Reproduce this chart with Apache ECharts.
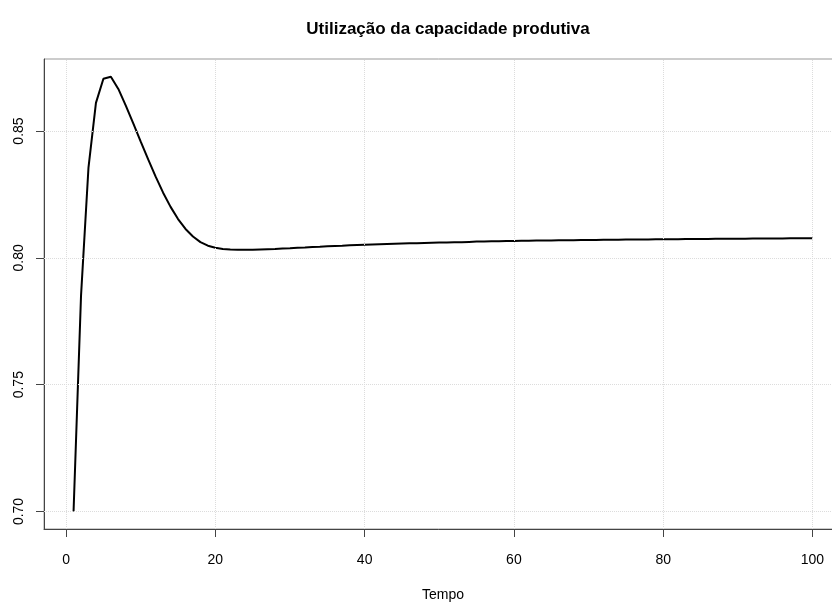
<!DOCTYPE html>
<html>
<head>
<meta charset="utf-8">
<script src="https://cdn.jsdelivr.net/npm/echarts@6/dist/echarts.min.js"></script>
<style>
  html, body { margin: 0; padding: 0; background: #fff; }
  #chart { width: 832px; height: 603px; }
</style>
</head>
<body>
<div id="chart"></div>
<script>
// periodos 1..100
var tempo = [];
for (var i = 1; i <= 100; i++) tempo.push(i);

// utilizacao da capacidade
var utilizacao = [
  0.7000, 0.7850, 0.8356, 0.8611, 0.8706, 0.8714, 0.8666, 0.8600, 0.8530, 0.8458,
  0.8388, 0.8320, 0.8257, 0.8201, 0.8153, 0.8114, 0.8084, 0.8062, 0.8048, 0.8040,
  0.8035, 0.8033, 0.8032, 0.8032, 0.8032, 0.8033, 0.8034, 0.8035, 0.8037, 0.8038,
  0.8040, 0.8041, 0.8043, 0.8044, 0.8046, 0.8047, 0.8048, 0.8050, 0.8051, 0.8052,
  0.8053, 0.8054, 0.8055, 0.8056, 0.8057, 0.8058, 0.8058, 0.8059, 0.8060, 0.8061,
  0.8061, 0.8062, 0.8062, 0.8063, 0.8064, 0.8064, 0.8065, 0.8065, 0.8066, 0.8066,
  0.8067, 0.8067, 0.8068, 0.8068, 0.8068, 0.8069, 0.8069, 0.8069, 0.8070, 0.8070,
  0.8070, 0.8071, 0.8071, 0.8071, 0.8072, 0.8072, 0.8072, 0.8072, 0.8073, 0.8073,
  0.8073, 0.8073, 0.8074, 0.8074, 0.8074, 0.8074, 0.8075, 0.8075, 0.8075, 0.8075,
  0.8075, 0.8076, 0.8076, 0.8076, 0.8076, 0.8076, 0.8077, 0.8077, 0.8077, 0.8077
];

var xTicks = [0, 20, 40, 60, 80, 100];
var yTicks = [0.70, 0.75, 0.80, 0.85];

var chart = echarts.init(document.getElementById('chart'));

var gridLines = [];
xTicks.forEach(function (v) { gridLines.push({ xAxis: v }); });
yTicks.forEach(function (v) { gridLines.push({ yAxis: v }); });

chart.setOption({
    animation: false,
    textStyle: {
        fontFamily: 'Liberation Sans'
    },
    title: {
        text: 'Utilização da capacidade produtiva',
        left: 443,
        top: 16,
        textAlign: 'center',
        textStyle: {
            color: '#000',
            fontSize: 17,
            fontWeight: 'bold',
            fontFamily: 'Liberation Sans'
        }
    },
    grid: {
        show: true,
        left: 44,
        top: 59,
        width: 798,
        height: 470,
        borderColor: '#999',
        borderWidth: 1,
        containLabel: false,
        outerBoundsMode: 'none'
    },
    xAxis: {
        type: 'value',
        min: -2.96,
        max: 103.96,
        name: 'Tempo',
        nameLocation: 'middle',
        nameGap: 59,
        nameTextStyle: {
            color: '#000',
            fontSize: 14
        },
        axisLine: {
            show: true,
            onZero: false,
            lineStyle: { color: '#444', width: 1 }
        },
        axisTick: {
            show: true,
            inside: false,
            length: 8,
            customValues: xTicks,
            lineStyle: { color: '#444' }
        },
        axisLabel: {
            color: '#000',
            fontSize: 14,
            margin: 24,
            customValues: xTicks
        },
        splitLine: { show: false }
    },
    yAxis: {
        type: 'value',
        min: 0.6931,
        max: 0.8784,
        axisLine: {
            show: true,
            onZero: false,
            lineStyle: { color: '#444', width: 1 }
        },
        axisTick: {
            show: true,
            length: 8,
            customValues: yTicks,
            lineStyle: { color: '#444' }
        },
        axisLabel: {
            color: '#000',
            fontSize: 14,
            rotate: 90,
            margin: 18,
            customValues: yTicks,
            formatter: function (v) { return v.toFixed(2); }
        },
        splitLine: { show: false }
    },
    series: [
        {
            type: 'line',
            data: tempo.map(function (t, k) { return [t, utilizacao[k]]; }),
            showSymbol: false,
            lineStyle: { color: '#000', width: 2 },
            markLine: {
                silent: true,
                symbol: 'none',
                label: { show: false },
                lineStyle: { color: '#dcdcdc', type: 'dotted', width: 1 },
                data: gridLines
            },
            z: 3
        }
    ]
});
</script>
</body>
</html>
